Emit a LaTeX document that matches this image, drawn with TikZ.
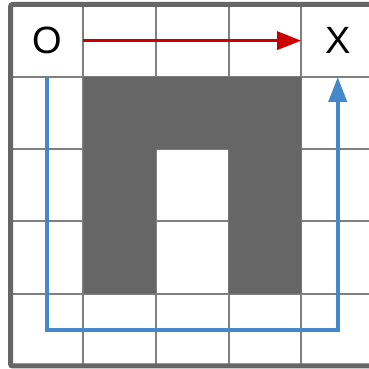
\documentclass[tikz,border=0pt]{standalone}
\usepackage{fontspec}
\setmainfont{Liberation Sans}
\usetikzlibrary{arrows.meta, positioning}
\definecolor{wallgray}{RGB}{102,102,102}
\definecolor{gridgray}{RGB}{128,128,128}
\definecolor{pathred}{RGB}{204,0,0}
\definecolor{pathblue}{RGB}{68,136,204}
\tikzset{
  cellnode/.style={minimum width=72.7pt, minimum height=72.3pt, inner sep=0pt,
    font=\fontsize{38}{38}\selectfont},
  redpath/.style={pathred, line width=3.2pt, -{Triangle[length=24pt, width=18pt]}},
  bluepath/.style={pathblue, line width=4pt, -{Triangle[length=25pt, width=18pt]}}
}
\begin{document}
\begin{tikzpicture}[x=72.7pt, y=-72.3pt]
  \useasboundingbox (-0.1458,-0.0622) rectangle (4.930,5.0415);
  % grid
  \foreach \i in {1,...,4} {
    \draw[gridgray, line width=2pt] (\i,0) -- (\i,5);
    \draw[gridgray, line width=2pt] (0,\i) -- (5,\i);
  }
  % wall
  \fill[wallgray] (1,1) -- (4,1) -- (4,4) -- (3,4) -- (3,2) -- (2,2) -- (2,4) -- (1,4) -- cycle;
  % border
  \draw[wallgray, line width=5pt, rounded corners=2pt] (0,0) rectangle (5,5);
  % start and goal
  \node[cellnode] (start) at (0.5,0.5) {O};
  \node[cellnode] (goal) at (4.5,0.5) {X};
  \coordinate (corner) at (0.5,4.5);
  % paths
  \draw[redpath] (start.east) -- (goal.west);
  \draw[bluepath] (start.south) -- (corner) -| (goal.south);
\end{tikzpicture}
\end{document}
